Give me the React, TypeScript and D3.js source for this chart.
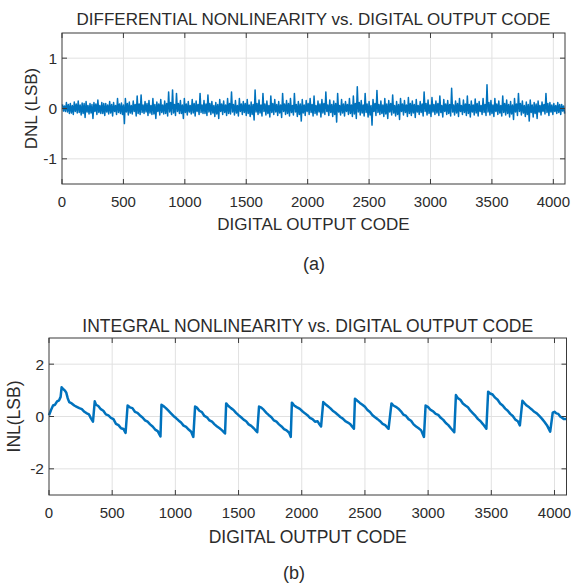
import React from 'react';
import * as d3 from 'd3';

// x axis ticks (digital output code)
const codeTicks = [0, 500, 1000, 1500, 2000, 2500, 3000, 3500, 4000];
const dnlTicks = [-1, 0, 1];
const inlTicks = [-2, 0, 2];

// DNL, per 32-code bin: outer max / min and the dense core
const dnlBin = 32;
const dnlUpper = [
  0.08, 0.12, 0.1, 0.13, 0.15, 0.11, 0.14, 0.1, 0.12, 0.17, 0.12, 0.1, 0.14, 0.12, 0.2, 0.11,
  0.2, 0.13, 0.15, 0.25, 0.27, 0.14, 0.16, 0.2, 0.13, 0.18, 0.15, 0.33, 0.37, 0.3, 0.16, 0.2,
  0.14, 0.18, 0.15, 0.3, 0.16, 0.27, 0.14, 0.12, 0.18, 0.15, 0.2, 0.33, 0.16, 0.2, 0.14, 0.18,
  0.13, 0.37, 0.17, 0.3, 0.15, 0.25, 0.18, 0.14, 0.3, 0.16, 0.2, 0.3, 0.14, 0.18, 0.16, 0.2,
  0.25, 0.15, 0.18, 0.33, 0.17, 0.15, 0.3, 0.18, 0.14, 0.2, 0.25, 0.43, 0.16, 0.3, 0.14, 0.18,
  0.36, 0.15, 0.2, 0.16, 0.27, 0.14, 0.2, 0.16, 0.22, 0.15, 0.18, 0.14, 0.33, 0.17, 0.22, 0.15,
  0.25, 0.18, 0.16, 0.4, 0.15, 0.2, 0.17, 0.25, 0.15, 0.19, 0.14, 0.2, 0.47, 0.16, 0.2, 0.15,
  0.25, 0.17, 0.14, 0.2, 0.3, 0.15, 0.13, 0.17, 0.12, 0.15, 0.13, 0.3, 0.12, 0.1, 0.12, 0.08,
];
const dnlLower = [
  -0.06, -0.1, -0.12, -0.09, -0.13, -0.18, -0.11, -0.2, -0.12, -0.1, -0.14, -0.11, -0.15, -0.12, -0.1, -0.3,
  -0.13, -0.11, -0.15, -0.12, -0.1, -0.14, -0.12, -0.2, -0.13, -0.11, -0.15, -0.12, -0.14, -0.1, -0.2, -0.13,
  -0.11, -0.15, -0.12, -0.1, -0.14, -0.12, -0.16, -0.2, -0.12, -0.14, -0.11, -0.13, -0.15, -0.12, -0.14, -0.16,
  -0.23, -0.12, -0.15, -0.13, -0.17, -0.12, -0.14, -0.18, -0.12, -0.15, -0.13, -0.16, -0.25, -0.14, -0.12, -0.15,
  -0.13, -0.17, -0.12, -0.14, -0.16, -0.27, -0.13, -0.15, -0.12, -0.16, -0.2, -0.13, -0.15, -0.17, -0.33, -0.14,
  -0.12, -0.16, -0.2, -0.13, -0.15, -0.22, -0.13, -0.16, -0.14, -0.18, -0.12, -0.15, -0.13, -0.16, -0.12, -0.14,
  -0.17, -0.12, -0.15, -0.13, -0.16, -0.12, -0.14, -0.17, -0.13, -0.15, -0.12, -0.14, -0.13, -0.16, -0.12, -0.15,
  -0.13, -0.17, -0.22, -0.14, -0.13, -0.16, -0.25, -0.17, -0.2, -0.13, -0.11, -0.14, -0.12, -0.1, -0.12, -0.1,
];
const dnlCoreUp = [
  0.05, 0.08, 0.06, 0.09, 0.07, 0.1, 0.06, 0.08, 0.09, 0.06, 0.1, 0.07, 0.08, 0.06, 0.09, 0.07,
  0.1, 0.06, 0.08, 0.09, 0.07, 0.1, 0.06, 0.08, 0.09, 0.07, 0.1, 0.12, 0.08, 0.1, 0.07, 0.09,
  0.06, 0.1, 0.08, 0.07, 0.09, 0.1, 0.06, 0.08, 0.09, 0.07, 0.1, 0.08, 0.06, 0.09, 0.1, 0.07,
  0.08, 0.1, 0.07, 0.09, 0.06, 0.1, 0.08, 0.07, 0.09, 0.1, 0.06, 0.08, 0.09, 0.07, 0.1, 0.08,
  0.06, 0.09, 0.1, 0.07, 0.08, 0.1, 0.06, 0.09, 0.08, 0.07, 0.1, 0.12, 0.07, 0.09, 0.06, 0.1,
  0.08, 0.07, 0.09, 0.1, 0.06, 0.08, 0.09, 0.07, 0.1, 0.08, 0.06, 0.09, 0.1, 0.07, 0.08, 0.1,
  0.06, 0.09, 0.08, 0.07, 0.1, 0.06, 0.09, 0.08, 0.07, 0.1, 0.06, 0.08, 0.12, 0.07, 0.09, 0.06,
  0.1, 0.08, 0.07, 0.09, 0.1, 0.06, 0.08, 0.07, 0.09, 0.06, 0.08, 0.1, 0.07, 0.06, 0.08, 0.05,
];
const dnlCoreLow = [
  -0.05, -0.07, -0.09, -0.06, -0.08, -0.1, -0.07, -0.09, -0.06, -0.08, -0.1, -0.07, -0.09, -0.06, -0.08, -0.12,
  -0.07, -0.09, -0.06, -0.1, -0.08, -0.07, -0.09, -0.11, -0.06, -0.08, -0.1, -0.07, -0.09, -0.06, -0.1, -0.08,
  -0.07, -0.09, -0.06, -0.08, -0.1, -0.07, -0.09, -0.11, -0.06, -0.08, -0.1, -0.07, -0.09, -0.06, -0.08, -0.1,
  -0.12, -0.07, -0.09, -0.06, -0.1, -0.08, -0.07, -0.09, -0.06, -0.1, -0.08, -0.07, -0.12, -0.09, -0.06, -0.08,
  -0.1, -0.07, -0.09, -0.06, -0.08, -0.12, -0.07, -0.09, -0.06, -0.1, -0.11, -0.07, -0.09, -0.08, -0.13, -0.06,
  -0.08, -0.1, -0.11, -0.07, -0.09, -0.12, -0.06, -0.08, -0.1, -0.09, -0.07, -0.08, -0.06, -0.1, -0.07, -0.09,
  -0.08, -0.06, -0.1, -0.07, -0.09, -0.06, -0.08, -0.1, -0.07, -0.09, -0.06, -0.08, -0.07, -0.1, -0.06, -0.09,
  -0.08, -0.1, -0.11, -0.07, -0.06, -0.09, -0.12, -0.08, -0.1, -0.07, -0.06, -0.08, -0.07, -0.06, -0.08, -0.05,
];

// INL trace, [code, LSB]
const inlPoints: [number, number][] = [
  [0, 0.05], [16, 0.25], [32, 0.42], [48, 0.45], [64, 0.58], [80, 0.62], [92, 0.75], [100, 1.12],
  [112, 1.05], [124, 1.0], [136, 0.92], [148, 0.7], [160, 0.55], [180, 0.5], [200, 0.42], [216, 0.38],
  [240, 0.32], [260, 0.28], [280, 0.18], [300, 0.12], [316, 0.08], [330, -0.05], [348, -0.2],
  [362, 0.58], [372, 0.45], [390, 0.4], [410, 0.28], [430, 0.22], [450, 0.08], [470, 0.04], [490, -0.05],
  [510, -0.1], [530, -0.28], [550, -0.33], [570, -0.45], [590, -0.48], [606, -0.63],
  [622, 0.42], [640, 0.35], [660, 0.32], [680, 0.18], [700, 0.14], [720, 0.04], [740, -0.04], [760, -0.15],
  [780, -0.2], [800, -0.3], [820, -0.38], [840, -0.5], [860, -0.56], [882, -0.76],
  [890, 0.45], [905, 0.4], [925, 0.32], [945, 0.22], [965, 0.12], [985, 0.02], [1005, -0.06], [1025, -0.15],
  [1045, -0.23], [1065, -0.35], [1085, -0.4], [1105, -0.5], [1125, -0.58], [1142, -0.78],
  [1156, 0.38], [1170, 0.34], [1190, 0.22], [1210, 0.17], [1230, 0.02], [1250, -0.03], [1270, -0.15],
  [1290, -0.2], [1310, -0.3], [1330, -0.38], [1350, -0.45], [1370, -0.53], [1393, -0.65],
  [1402, 0.5], [1420, 0.4], [1440, 0.32], [1460, 0.25], [1480, 0.14], [1500, 0.05], [1520, -0.03],
  [1540, -0.12], [1560, -0.18], [1580, -0.3], [1600, -0.36], [1620, -0.45], [1648, -0.6],
  [1662, 0.38], [1680, 0.34], [1700, 0.25], [1720, 0.14], [1740, 0.05], [1760, -0.03], [1780, -0.15],
  [1800, -0.2], [1820, -0.3], [1840, -0.38], [1860, -0.48], [1880, -0.53], [1900, -0.62], [1913, -0.78],
  [1922, 0.53], [1940, 0.42], [1960, 0.36], [1985, 0.29], [2005, 0.2], [2025, 0.12], [2045, 0.05],
  [2065, -0.05], [2085, -0.1], [2105, -0.2], [2125, -0.18], [2140, -0.3], [2153, -0.38],
  [2170, 0.55], [2185, 0.48], [2205, 0.4], [2225, 0.32], [2245, 0.22], [2265, 0.15], [2285, 0.07],
  [2305, -0.02], [2325, -0.08], [2345, -0.18], [2365, -0.23], [2385, -0.3], [2413, -0.47],
  [2421, 0.68], [2440, 0.6], [2460, 0.52], [2480, 0.45], [2500, 0.37], [2520, 0.25], [2540, 0.17],
  [2560, 0.05], [2580, -0.03], [2600, -0.1], [2620, -0.18], [2640, -0.28], [2660, -0.33], [2687, -0.47],
  [2710, 0.5], [2725, 0.42], [2745, 0.37], [2765, 0.3], [2785, 0.2], [2805, 0.07], [2825, 0.02],
  [2845, -0.1], [2865, -0.16], [2885, -0.3], [2905, -0.38], [2925, -0.45], [2945, -0.53], [2967, -0.78],
  [2980, 0.42], [3000, 0.36], [3020, 0.25], [3040, 0.2], [3060, 0.1], [3080, 0.06], [3100, -0.05],
  [3120, -0.13], [3140, -0.25], [3160, -0.33], [3180, -0.45], [3207, -0.6],
  [3220, 0.82], [3235, 0.7], [3255, 0.64], [3275, 0.5], [3295, 0.42], [3315, 0.35], [3335, 0.22],
  [3355, 0.12], [3375, 0.02], [3395, -0.1], [3415, -0.18], [3435, -0.3], [3461, -0.47],
  [3475, 0.95], [3490, 0.88], [3510, 0.84], [3530, 0.72], [3550, 0.64], [3570, 0.5], [3590, 0.42],
  [3610, 0.3], [3630, 0.22], [3650, 0.1], [3670, 0.02], [3690, -0.12], [3710, -0.18], [3726, -0.34],
  [3746, 0.6], [3760, 0.52], [3780, 0.42], [3800, 0.35], [3820, 0.27], [3840, 0.18], [3860, 0.12],
  [3880, 0.02], [3900, -0.08], [3920, -0.2], [3940, -0.33], [3966, -0.58],
  [3986, 0.15], [4000, 0.18], [4015, 0.12], [4030, 0.1], [4045, 0.0], [4060, -0.05], [4075, -0.1], [4095, -0.1],
];

const BLUE = '#0072BD';
const TEXT = '#2b2b2b';
const FONT = '"Liberation Sans", Arial, sans-serif';

type PanelProps = {
  box: { left: number; right: number; top: number; bottom: number };
  yDomain: [number, number];
  yTicks: number[];
  points: [number, number][];
  strokeWidth: number;
  title: string;
  yLabel: string;
  titleY: number;
  tickY: number;
  xLabelY: number;
  yLabelX: number;
  fontSize: number;
};

const Panel = ({ box, yDomain, yTicks, points, strokeWidth, title, yLabel, titleY, tickY, xLabelY, yLabelX, fontSize }: PanelProps) => {
  const x = d3.scaleLinear().domain([0, 4095]).range([box.left, box.right]);
  const y = d3.scaleLinear().domain(yDomain).range([box.bottom, box.top]);
  const line = d3.line<[number, number]>().x(d => x(d[0])).y(d => y(d[1]));
  const cx = (box.left + box.right) / 2;
  const cy = (box.top + box.bottom) / 2;
  const tick = 5;

  return (
    <g fontFamily={FONT} fill={TEXT}>
      {/* grid */}
      {codeTicks.filter(t => t > 0).map(t => (
        <line key={'gx' + t} x1={x(t)} x2={x(t)} y1={box.top} y2={box.bottom} stroke="#e1e1e1" />
      ))}
      {yTicks.map(t => (
        <line key={'gy' + t} x1={box.left} x2={box.right} y1={y(t)} y2={y(t)} stroke="#e1e1e1" />
      ))}

      <path d={line(points) || ''} fill="none" stroke={BLUE} strokeWidth={strokeWidth} strokeLinejoin="round" />

      {/* box and inward ticks */}
      <rect x={box.left} y={box.top} width={box.right - box.left} height={box.bottom - box.top}
        fill="none" stroke="#3a3a3a" strokeWidth={1} />
      {codeTicks.map(t => (
        <g key={'tx' + t} stroke="#3a3a3a">
          <line x1={x(t)} x2={x(t)} y1={box.bottom} y2={box.bottom - tick} />
          <line x1={x(t)} x2={x(t)} y1={box.top} y2={box.top + tick} />
        </g>
      ))}
      {yTicks.map(t => (
        <g key={'ty' + t} stroke="#3a3a3a">
          <line x1={box.left} x2={box.left + tick} y1={y(t)} y2={y(t)} />
          <line x1={box.right} x2={box.right - tick} y1={y(t)} y2={y(t)} />
        </g>
      ))}

      {/* tick labels */}
      {codeTicks.map(t => (
        <text key={'lx' + t} x={x(t)} y={tickY} textAnchor="middle" fontSize={15}>{t}</text>
      ))}
      {yTicks.map(t => (
        <text key={'ly' + t} x={box.left - 5} y={y(t)} dy="0.36em" textAnchor="end" fontSize={15.5}>{t}</text>
      ))}

      <text x={cx} y={titleY} textAnchor="middle" fontSize={fontSize}>{title}</text>
      <text x={cx} y={xLabelY} textAnchor="middle" fontSize={fontSize}>DIGITAL OUTPUT CODE</text>
      <text transform={`translate(${yLabelX},${cy}) rotate(-90)`} textAnchor="middle" fontSize={fontSize}>{yLabel}</text>
    </g>
  );
};

export default function App() {
  // DNL trace: zig-zag through the outer and core extremes of each bin
  const dnlPoints: [number, number][] = [];
  dnlUpper.forEach((u, i) => {
    const c = i * dnlBin;
    dnlPoints.push([c + 4, u]);
    dnlPoints.push([c + 12, dnlCoreLow[i]]);
    dnlPoints.push([c + 20, dnlCoreUp[i]]);
    dnlPoints.push([c + 28, dnlLower[i]]);
  });

  return (
    <svg width={571} height={586} style={{ position: 'absolute', left: 0, top: 0, background: '#fff' }}>
      <Panel
        box={{ left: 62, right: 565, top: 33, bottom: 184 }}
        yDomain={[-1.5, 1.5]}
        yTicks={dnlTicks}
        points={dnlPoints}
        strokeWidth={1.5}
        title="DIFFERENTIAL NONLINEARITY vs. DIGITAL OUTPUT CODE"
        yLabel="DNL (LSB)"
        titleY={25}
        tickY={207}
        xLabelY={230}
        yLabelX={37}
        fontSize={17}
      />
      <text x={314} y={270} textAnchor="middle" fontFamily={FONT} fontSize={18} fill={TEXT}>(a)</text>

      <Panel
        box={{ left: 49, right: 566.5, top: 338, bottom: 495 }}
        yDomain={[-3, 3]}
        yTicks={inlTicks}
        points={inlPoints}
        strokeWidth={2.5}
        title="INTEGRAL NONLINEARITY vs. DIGITAL OUTPUT CODE"
        yLabel="INL(LSB)"
        titleY={332}
        tickY={518}
        xLabelY={543}
        yLabelX={20}
        fontSize={17.5}
      />
      <text x={294} y={579} textAnchor="middle" fontFamily={FONT} fontSize={18} fill={TEXT}>(b)</text>
    </svg>
  );
}
